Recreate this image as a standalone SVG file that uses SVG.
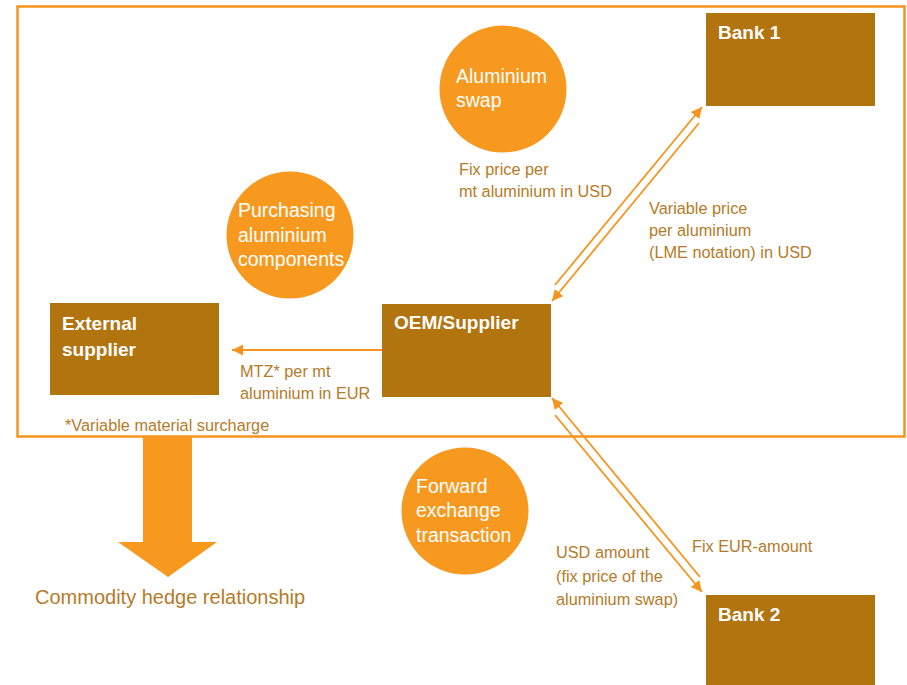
<svg xmlns="http://www.w3.org/2000/svg" width="907" height="685" viewBox="0 0 907 685">
<style>
.box{fill:#b2740f}
.circ{fill:#f7991f}
.bt{font-family:"Liberation Sans",Arial,sans-serif;font-weight:bold;font-size:19px;fill:#ffffff}
.ct{font-family:"Liberation Sans",Arial,sans-serif;font-size:19.5px;fill:#ffffff}
.lt{font-family:"Liberation Sans",Arial,sans-serif;font-size:16.3px;fill:#b57b28}
.conn{stroke:#f7941d;stroke-width:1.8;fill:none;marker-end:url(#ah)}
</style>
<defs>
<marker id="ah" markerUnits="userSpaceOnUse" markerWidth="12" markerHeight="12" viewBox="0 0 12 12" refX="11" refY="6" orient="auto">
<path d="M0,0.5 L11,6 L0,11.5 Z" fill="#f7941d"/>
</marker>
</defs>
<rect width="907" height="685" fill="#ffffff"/>
<rect id="frame" x="17.5" y="6.5" width="887" height="430" fill="none" stroke="#f7941d" stroke-width="2.5"/>
<g id="connectors">
<line class="conn" x1="555" y1="285" x2="702" y2="107"/>
<line class="conn" x1="699" y1="123" x2="552" y2="301"/>
<line class="conn" x1="700" y1="577" x2="552" y2="398"/>
<line class="conn" x1="555" y1="415" x2="702" y2="592"/>
<line class="conn" x1="382" y1="350" x2="232" y2="350"/>
</g>
<g id="bank1"><rect class="box" x="706" y="13" width="169" height="93"/><text class="bt" x="718" y="39">Bank 1</text></g>
<g id="bank2"><rect class="box" x="706" y="595" width="169" height="90"/><text class="bt" x="718" y="621">Bank 2</text></g>
<g id="oem"><rect class="box" x="382" y="304" width="169" height="93"/><text class="bt" x="394" y="329">OEM/Supplier</text></g>
<g id="external"><rect class="box" x="50" y="303" width="169" height="92"/><text class="bt" x="62" y="330">External</text><text class="bt" x="62" y="356">supplier</text></g>
<g id="swap"><circle class="circ" cx="503" cy="89" r="63.5"/><text class="ct" x="456" y="83">Aluminium</text><text class="ct" x="456" y="107">swap</text></g>
<g id="purchasing"><circle class="circ" cx="290" cy="235" r="63.5"/><text class="ct" x="238" y="217">Purchasing</text><text class="ct" x="238" y="242">aluminium</text><text class="ct" x="238" y="266">components</text></g>
<g id="forward"><circle class="circ" cx="465" cy="511" r="63.5"/><text class="ct" x="416" y="493">Forward</text><text class="ct" x="416" y="517">exchange</text><text class="ct" x="416" y="542">transaction</text></g>
<g id="labels">
<text class="lt" x="459" y="175">Fix price per</text>
<text class="lt" x="459" y="197">mt aluminium in USD</text>
<text class="lt" x="649" y="214">Variable price</text>
<text class="lt" x="649" y="236">per aluminium</text>
<text class="lt" x="649" y="258">(LME notation) in USD</text>
<text class="lt" x="240" y="377">MTZ* per mt</text>
<text class="lt" x="240" y="399">aluminium in EUR</text>
<text class="lt" x="65" y="431">*Variable material surcharge</text>
<text class="lt" x="556" y="558">USD amount</text>
<text class="lt" x="556" y="582">(fix price of the</text>
<text class="lt" x="556" y="605">aluminium swap)</text>
<text class="lt" x="692" y="552">Fix EUR-amount</text>
</g>
<g id="hedge">
<path d="M143,437 L192,437 L192,542 L217,542 L168,577 L118,542 L143,542 Z" fill="#f7991f"/>
<text class="lt" style="font-size:20px" x="35" y="604">Commodity hedge relationship</text>
</g>
</svg>
